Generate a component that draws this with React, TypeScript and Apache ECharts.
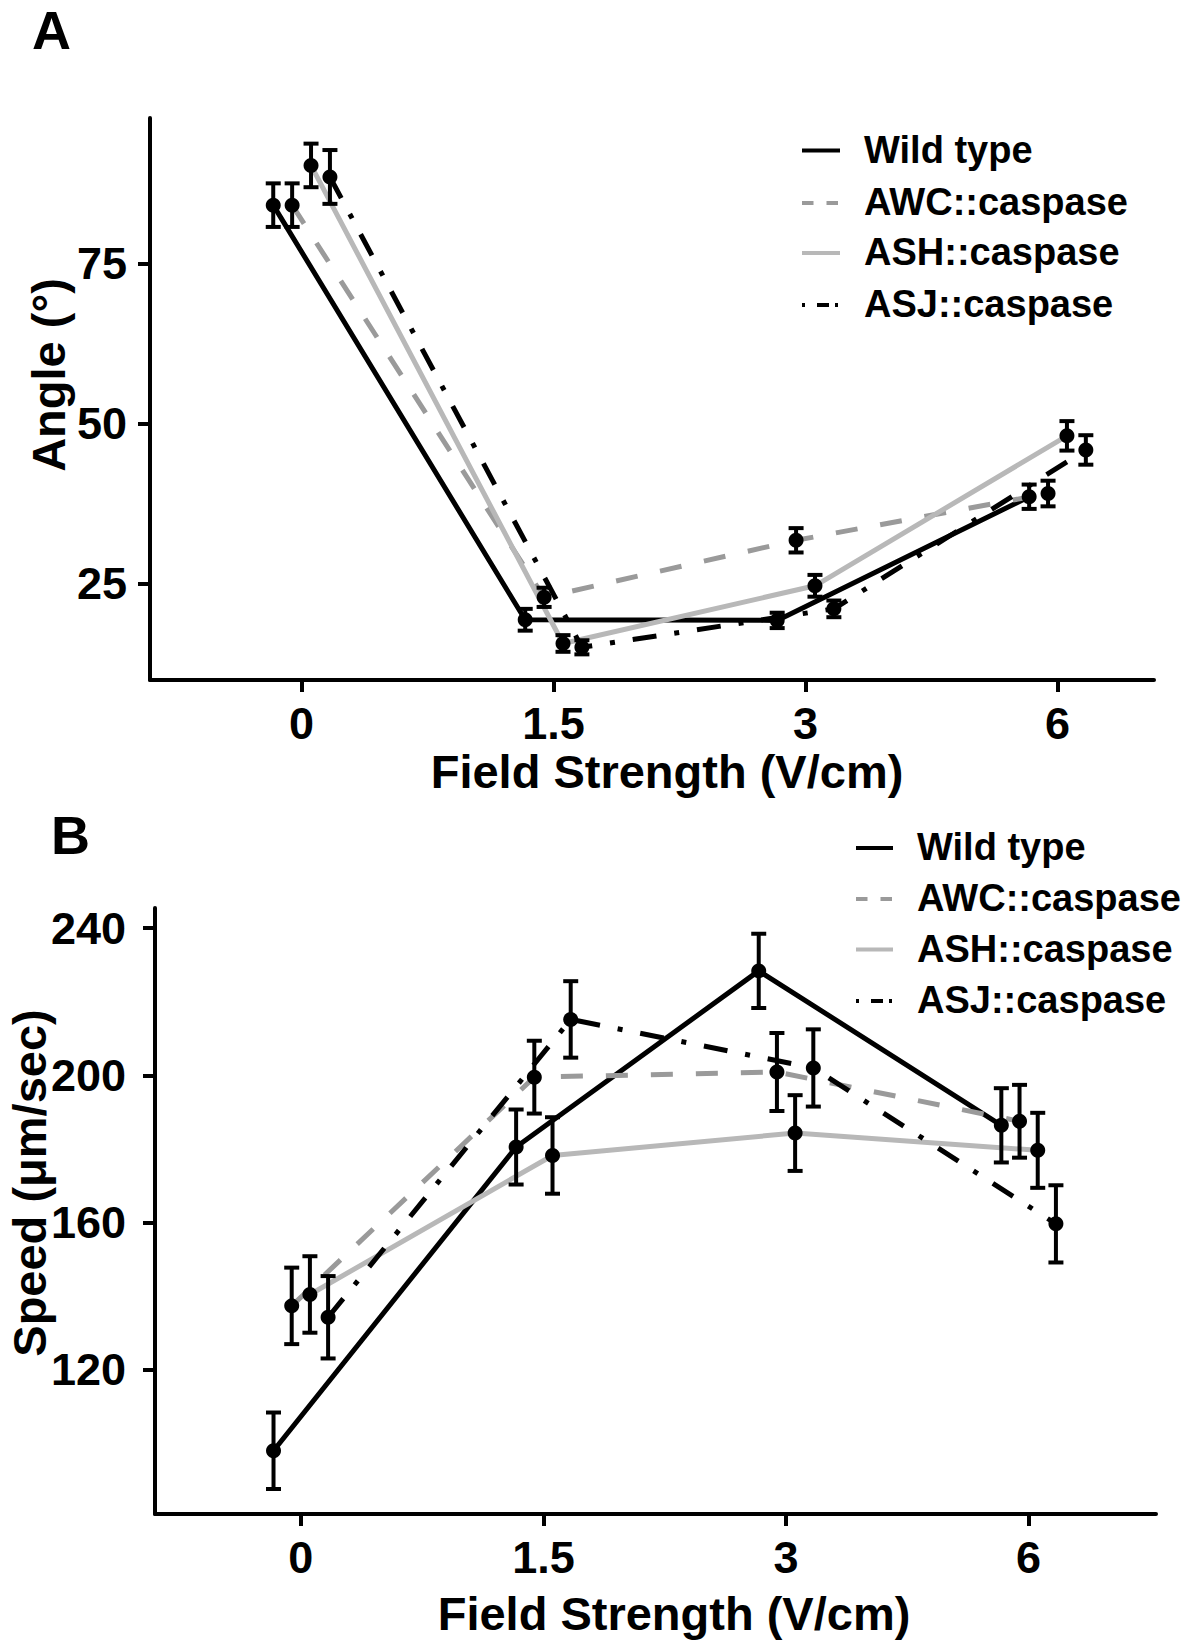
import React, { useEffect, useRef } from "react";
import * as echarts from "echarts";

// ---------- data ----------
const fieldLabels = ["0", "1.5", "3", "6"];
const seriesNames = ["Wild type", "AWC::caspase", "ASH::caspase", "ASJ::caspase"];
const dodge = [-0.1125, -0.0375, 0.0375, 0.1125];

// Panel A: Angle (deg)
const angleWT = [84.1, 19.4, 19.3, 38.6];
const angleAWC = [84.1, 22.9, 31.8, 39.1];
const angleASH = [90.3, 15.7, 24.7, 48.1];
const angleASJ = [88.5, 15.1, 21.1, 45.9];
const angleErrWT = [3.4, 1.7, 1.2, 1.9];
const angleErrAWC = [3.4, 1.5, 1.9, 2.0];
const angleErrASH = [3.4, 1.3, 1.7, 2.3];
const angleErrASJ = [4.2, 1.1, 1.3, 2.3];

// Panel B: Speed (um/sec)
const speedWT = [97.9, 180.5, 228.4, 186.4];
const speedAWC = [137.3, 199.5, 200.9, 187.5];
const speedASH = [140.4, 178.2, 184.3, 179.6];
const speedASJ = [134.2, 215.2, 202.0, 159.6];
const speedErrWT = [10.4, 10.2, 10.1, 10.1];
const speedErrAWC = [10.4, 9.9, 10.6, 9.9];
const speedErrASH = [10.4, 10.4, 10.3, 10.2];
const speedErrASJ = [11.2, 10.4, 10.5, 10.5];

const angleTicks = [25, 50, 75];
const speedTicks = [120, 160, 200, 240];

// ---------- styles ----------
const FONT = "'Liberation Sans', Arial, Helvetica, sans-serif";
const colors = ["#000000", "#9a9a9a", "#b8b8b8", "#000000"];
const dashes: any[] = ["solid", [22, 23], "solid", [24, 18, 5, 18]];
const legendDashes: any[] = [null, [11.5, 13], null, [3, 12, 12, 6]];

function buildSeries(gridIdx: number, means: number[][], errs: number[][]) {
  const out: any[] = [];
  means.forEach((m, s) => {
    out.push({
      type: "line",
      name: seriesNames[s] + (gridIdx ? " " : ""),
      xAxisIndex: gridIdx,
      yAxisIndex: gridIdx,
      data: m.map((v, i) => [i + dodge[s], v]),
      showSymbol: false,
      symbol: "none",
      lineStyle: { color: colors[s], width: 5, type: dashes[s], opacity: 1 },
      z: 2,
      silent: true,
    });
  });
  const ebData: number[][] = [];
  const ptData: number[][] = [];
  means.forEach((m, s) => {
    m.forEach((v, i) => {
      const x = i + dodge[s];
      ebData.push([x, v - errs[s][i], v + errs[s][i]]);
      ptData.push([x, v]);
    });
  });
  out.push({
    type: "custom",
    xAxisIndex: gridIdx,
    yAxisIndex: gridIdx,
    data: ebData,
    encode: { x: 0, y: [1, 2] },
    z: 3,
    silent: true,
    renderItem: (params: any, api: any) => {
      const x = api.value(0);
      const lo = api.coord([x, api.value(1)]);
      const hi = api.coord([x, api.value(2)]);
      const hw = 7.5;
      const st = { stroke: "#000", lineWidth: 4 };
      return {
        type: "group",
        children: [
          { type: "line", shape: { x1: lo[0], y1: lo[1], x2: hi[0], y2: hi[1] }, style: st },
          { type: "line", shape: { x1: lo[0] - hw, y1: lo[1], x2: lo[0] + hw, y2: lo[1] }, style: st },
          { type: "line", shape: { x1: hi[0] - hw, y1: hi[1], x2: hi[0] + hw, y2: hi[1] }, style: st },
        ],
      };
    },
  });
  out.push({
    type: "scatter",
    xAxisIndex: gridIdx,
    yAxisIndex: gridIdx,
    data: ptData,
    symbol: "circle",
    symbolSize: 15,
    itemStyle: { color: "#000", opacity: 1 },
    z: 4,
    silent: true,
  });
  return out;
}

function axisCommon() {
  return {
    axisLine: { show: true, onZero: false, lineStyle: { color: "#000", width: 4 } },
    splitLine: { show: false },
  };
}

function legendGraphic(symX0: number, symX1: number, textX: number, rows: number[], symOff: number) {
  const els: any[] = [];
  seriesNames.forEach((n, s) => {
    const y = rows[s] + symOff;
    const style: any = { stroke: colors[s], lineWidth: 4 };
    if (legendDashes[s]) style.lineDash = legendDashes[s];
    els.push({ type: "line", shape: { x1: symX0, y1: y, x2: symX1, y2: y }, style });
    els.push({
      type: "text",
      x: textX,
      y: rows[s],
      style: {
        text: n,
        fontSize: 38,
        fontWeight: "bold",
        fontFamily: FONT,
        fill: "#000",
        textAlign: "left",
        align: "left",
        textVerticalAlign: "middle",
        verticalAlign: "middle",
      },
    });
  });
  return els;
}

function label(text: string, x: number, y: number, size: number, rotate = false, alignX = "center") {
  return {
    type: "text",
    x,
    y,
    rotation: rotate ? Math.PI / 2 : 0,
    style: {
      text,
      fontSize: size,
      fontWeight: "bold",
      fontFamily: FONT,
      fill: "#000",
      textAlign: alignX,
      align: alignX,
      textVerticalAlign: "middle",
      verticalAlign: "middle",
    },
  };
}

export default function App() {
  const ref = useRef<HTMLDivElement>(null);
  useEffect(() => {
    if (!ref.current) return;
    const chart = echarts.init(ref.current, null, { renderer: "svg" });
    const tickLabel = (margin: number) => ({
      show: true,
      color: "#000",
      fontSize: 45,
      fontWeight: "bold",
      fontFamily: FONT,
      margin,
    });
    const xTicks = [0, 1, 2, 3];
    const makeX = (gridIndex: number, min: number, max: number) => ({
      gridIndex,
      type: "value",
      min,
      max,
      ...axisCommon(),
      axisTick: { show: true, length: 12, lineStyle: { color: "#000", width: 4 }, customValues: xTicks },
      axisLabel: {
        ...tickLabel(21),
        customValues: xTicks,
        formatter: (v: number) => fieldLabels[Math.round(v)] ?? "",
      },
    });
    const makeY = (gridIndex: number, min: number, max: number, ticks: number[], margin: number) => ({
      gridIndex,
      type: "value",
      min,
      max,
      ...axisCommon(),
      axisTick: { show: true, length: 12, lineStyle: { color: "#000", width: 4 }, customValues: ticks },
      axisLabel: { ...tickLabel(margin), customValues: ticks, formatter: (v: number) => String(v) },
    });

    const option: any = {
      animation: false,
      backgroundColor: "#fff",
      grid: [
        { left: 150, top: 118, width: 1004, height: 562, containLabel: false, outerBoundsMode: "none" },
        { left: 155, top: 908, width: 1001, height: 606, containLabel: false, outerBoundsMode: "none" },
      ],
      xAxis: [makeX(0, -0.6016, 3.383), makeX(1, -0.601, 3.525)],
      yAxis: [makeY(0, 10, 97.7, angleTicks, 23), makeY(1, 80.7, 245.5, speedTicks, 29)],
      series: [
        ...buildSeries(0, [angleWT, angleAWC, angleASH, angleASJ], [angleErrWT, angleErrAWC, angleErrASH, angleErrASJ]),
        ...buildSeries(1, [speedWT, speedAWC, speedASH, speedASJ], [speedErrWT, speedErrAWC, speedErrASH, speedErrASJ]),
      ],
      graphic: [
        label("A", 32, 30, 54, false, "left"),
        label("B", 51, 835, 54, false, "left"),
        label("Angle (°)", 48, 375, 47, true),
        label("Field Strength (V/cm)", 667, 771, 47),
        label("Speed (μm/sec)", 29, 1183, 47, true),
        label("Field Strength (V/cm)", 674, 1613, 47),
        ...legendGraphic(802, 840, 864, [149.5, 202, 252, 304], 1),
        ...legendGraphic(856, 893, 917, [847, 898, 948.5, 1000], 1),
      ],
    };
    chart.setOption(option);
    return () => chart.dispose();
  }, []);
  return (
    <div
      ref={ref}
      style={{ position: "absolute", left: 0, top: 0, width: 1187, height: 1642, background: "#fff" }}
    />
  );
}
